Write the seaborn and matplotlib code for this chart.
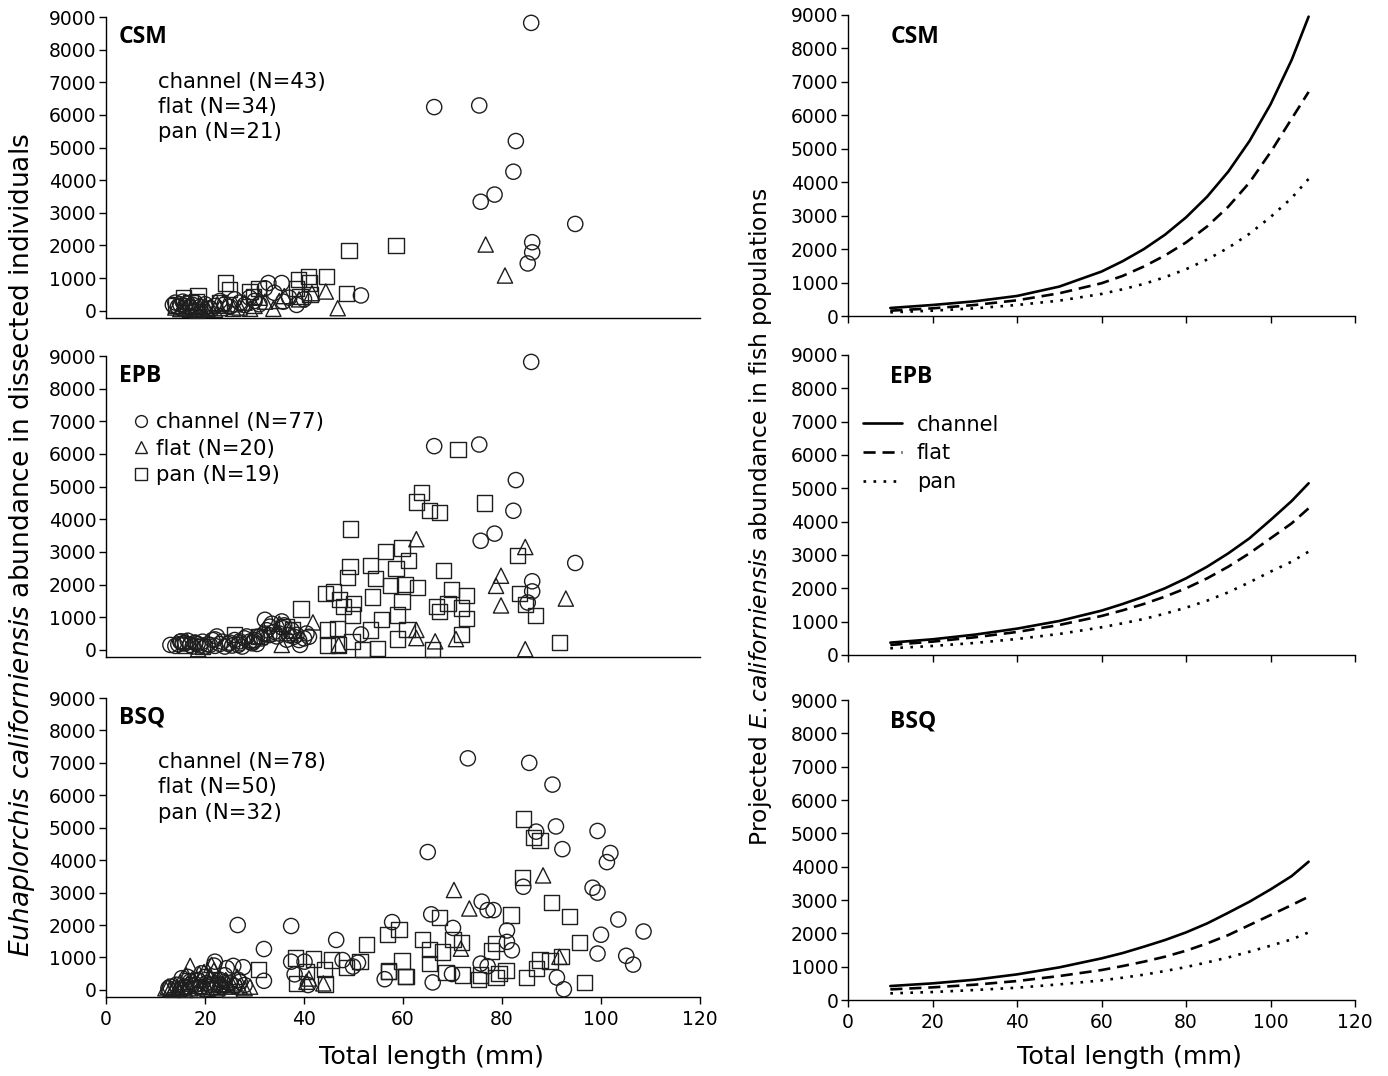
import matplotlib
matplotlib.use("Agg")
import matplotlib.pyplot as plt
from matplotlib.lines import Line2D
import seaborn as sns

sns.set_style("ticks")
plt.rcParams['font.family'] = ['DejaVu Sans']
plt.rcParams['mathtext.fontset'] = 'custom'
plt.rcParams['mathtext.rm'] = 'DejaVu Sans'
plt.rcParams['mathtext.it'] = 'DejaVu Sans:italic'
plt.rcParams['axes.linewidth'] = 1.0
for key in ['text.color', 'axes.labelcolor', 'xtick.color', 'ytick.color', 'axes.edgecolor']:
    plt.rcParams[key] = 'black'

# ---------------- dissected individuals (left column) ----------------
csm_channel_x = [85.9, 66.3, 75.4, 82.8, 82.3, 78.5, 75.7, 86.1, 86.1, 85.2, 94.8, 51.5,
                 13.5, 14, 14.5, 15, 15.5, 16, 16.5, 17, 17.5, 18, 19, 20, 21, 22, 23, 24, 25,
                 26, 27, 28, 29, 30, 31, 32.1, 32.8, 34, 35.5, 35.8, 37, 38.5, 40]
csm_channel_y = [8820, 6240, 6290, 5200, 4260, 3560, 3340, 2100, 1790, 1450, 2660, 470,
                 180, 250, 120, 200, 280, 150, 220, 100, 180, 250, 120, 200, 80, 150, 300, 200, 120,
                 350, 250, 180, 400, 300, 200, 690, 850, 550, 850, 280, 400, 180, 350]
csm_flat_x = [76.7, 80.6, 46.8, 44.4, 41.6, 33.8, 32.1, 25.7, 29.1,
              14, 15, 15.5, 16, 17, 17.5, 18, 18.5, 19, 19.5, 20, 20.5, 21, 22, 22.5, 23, 24,
              26, 27, 28, 30, 31, 35, 36, 39]
csm_flat_y = [2030, 1080, 80, 590, 540, 60, 280, 60, 60,
              100, 50, 150, 80, 30, 120, 60, 0, 100, 30, 150, 50, 100, 30, 200, 80, 150,
              200, 100, 250, 150, 400, 300, 450, 350]
csm_pan_x = [49.1, 58.6, 48.6, 44.5, 38.9, 40.9, 41.1, 41.2, 38.5, 39.2, 24.2, 25, 29.1,
             30.8, 29.8, 14, 15.6, 17, 18.6, 18.3, 23]
csm_pan_y = [1850, 2000, 540, 1050, 970, 1050, 850, 490, 690, 440, 850, 640, 590,
             690, 440, 150, 400, 250, 450, 280, 250]

epb_channel_x = [85.9, 66.3, 75.4, 82.8, 82.3, 78.5, 75.7, 86.1, 86.1, 85.2, 94.8, 51.5,
                 13, 14, 14.6, 15, 15.5, 16, 16.5, 17, 17.5, 18, 18.5, 19, 19.5, 20, 20.5, 21,
                 21.5, 22, 22.4, 23, 23.5, 24, 24.7, 25, 25.5, 26, 26.7, 27, 27.5, 28, 28.4, 29,
                 29.5, 29.8, 30, 30.5, 31.1, 31.5, 32, 32.1, 32.5, 33, 33.1, 33.5, 34, 34.5, 35,
                 35.5, 35.8, 36, 36.5, 37, 37.5, 38, 38.5, 39, 39.2, 40, 40.5, 41, 30.5, 27, 22,
                 18, 15.2]
epb_channel_y = [8820, 6240, 6290, 5200, 4260, 3560, 3340, 2100, 1790, 1450, 2660, 470,
                 150, 120, 170, 250, 200, 200, 280, 150, 100, 220, 180, 130, 250, 100, 170, 150,
                 300, 120, 410, 180, 250, 100, 180, 220, 130, 300, 150, 200, 100, 350, 410, 250,
                 200, 250, 300, 400, 410, 350, 500, 920, 600, 450, 710, 800, 550, 410, 500,
                 870, 660, 750, 310, 450, 600, 400, 460, 300, 150, 350, 500, 400, 180, 260, 320,
                 210, 260]
epb_flat_x = [84.7, 62.7, 79.8, 78.8, 79.8, 92.9, 84.7, 41.8, 62.7, 62.7, 66.5, 70.7, 47,
              35.5, 18.6, 16.4, 29.1, 32.7, 35, 37.3]
epb_flat_y = [3150, 3390, 2270, 1960, 1360, 1570, 20, 840, 610, 360, 260, 330, 150,
              150, 20, 260, 300, 500, 800, 510]
epb_pan_x = [71.1, 63.8, 62.7, 65.3, 67.4, 76.5, 49.4, 56.5, 59.8, 61.1,
             49.3, 53.5, 48.8, 54.5, 58.6, 57.4, 60.4, 62.9, 68.2, 83.2,
             69.8, 72.9, 44.3, 45.9, 47.1, 47.9, 50, 39.4, 53.9, 59.8,
             66.8, 67.3, 69.1, 71.8, 72.9, 83.5, 84.7, 86.8, 55.6, 58.9,
             49.8, 44.7, 46.8, 53.5, 44.7, 47, 49.7, 51.8, 54.8, 58.9,
             60.8, 71.8, 65.9, 91.6, 36.4, 37.7, 25.9, 30.9, 15.9, 19.5]
epb_pan_y = [6130, 4810, 4530, 4270, 4210, 4500, 3700, 3010, 3120, 2730,
             2560, 2590, 2220, 2180, 2500, 1960, 2010, 1920, 2430, 2890,
             1860, 1660, 1720, 1770, 1550, 1330, 1430, 1250, 1620, 1470,
             1330, 1180, 1430, 1280, 970, 1720, 1380, 1040, 920, 1070,
             1070, 610, 660, 610, 150, 150, 260, 0, 50, 330,
             630, 460, 0, 220, 720, 610, 460, 410, 150, 100]

bsq_channel_x = [73.1, 85.5, 90.2, 90.9, 99.3, 86.9, 92.2, 65, 101.9, 101.2, 84.3, 98.3, 99.3,
                 75.9, 77.1, 78.3, 65.7, 57.8, 103.5, 108.6, 100, 70.1, 81, 81, 82, 75.7, 77.1,
                 99.3, 105.1, 106.5, 91.1, 92.5, 69.9, 66, 56.3, 26.6, 37.4, 31.9, 46.5, 47.8,
                 49.9, 50.9, 31.9, 37.4, 40.1, 38.1, 40.8,
                 12.6, 15.3, 17, 19.3, 22, 21.8, 24.4, 25.7, 27.7, 26.7, 23, 20.3, 17, 18.2, 15.9,
                 14.2, 13, 16.5, 18.5, 19, 20, 21, 22.5, 23.5, 24, 25, 26, 27, 28, 16, 21.5]
bsq_channel_y = [7140, 7000, 6330, 5040, 4900, 4880, 4340, 4250, 4220, 3940, 3180, 3150, 3000,
                 2720, 2460, 2460, 2330, 2090, 2170, 1800, 1700, 1910, 1830, 1480, 1220, 810, 730,
                 1120, 1050, 780, 380, 20, 490, 230, 330, 2000, 1970, 1260, 1540, 920,
                 720, 840, 280, 870, 870, 480, 150,
                 50, 360, 260, 510, 870, 750, 670, 740, 700, 310, 310, 210, 160, 160, 100,
                 160, 100, 400, 300, 80, 400, 150, 200, 100, 450, 200, 120, 250, 150, 50, 50]
bsq_flat_x = [70.3, 73.4, 88.3, 71.7, 91.6, 43.9, 29.1, 17, 21.3,
              12, 12.5, 13, 13.5, 14, 14.5, 15, 15.5, 16, 16.5, 17, 17.5, 18, 18.5, 19, 19.5,
              20, 20.5, 21, 21.5, 22, 22.5, 23, 23.5, 24, 24.5, 25, 26, 27, 28, 16.2, 18.8,
              21.8, 24.2, 26.5, 14.8, 19.8, 22.8, 40.5, 41, 25.5]
bsq_flat_y = [3080, 2510, 3530, 1270, 1020, 200, 100, 740, 770,
              50, 100, 30, 0, 150, 60, 250, 100, 0, 200, 50, 350, 120, 0, 300, 80,
              200, 30, 450, 100, 250, 50, 350, 150, 100, 250, 0, 200, 100, 50, 450, 500,
              600, 300, 400, 20, 550, 180, 250, 350, 150]
bsq_pan_x = [84.3, 86.4, 87.7, 84.1, 90, 93.7, 81.8, 67.3, 56.8, 59.2,
             52.7, 64, 65.4, 68, 70.1, 71.8, 78.8, 77.9, 95.6, 92.1,
             89.7, 87.7, 86.9, 80.8, 79.4, 75.7, 75.2, 78.8, 72, 68.7,
             65.4, 59.8, 60.5, 57, 84.9, 96.7, 30.8, 38.2, 41.9, 45.6,
             44.2, 40.5, 38.5, 48.6, 51.3, 57, 60.6, 44.4]
bsq_pan_y = [5270, 4700, 4600, 3460, 2700, 2260, 2310, 2220, 1710, 1870,
             1400, 1560, 1240, 1170, 1550, 1450, 1420, 1200, 1460, 1040,
             890, 920, 650, 590, 510, 460, 330, 390, 460, 540,
             810, 890, 410, 580, 380, 220, 620, 980, 950, 920,
             620, 560, 200, 700, 870, 560, 410, 180]

# ---------------- projected abundance (right column) ----------------
curve_x = [10, 20, 30, 40, 50, 60, 65, 70, 75, 80, 85, 90, 95, 100, 105, 109]
csm_channel_fit = [240, 330, 440, 600, 880, 1330, 1640, 2000, 2430, 2950, 3570, 4320, 5230, 6330, 7660, 8950]
csm_flat_fit = [160, 230, 330, 470, 680, 980, 1200, 1480, 1810, 2200, 2680, 3270, 3990, 4900, 5900, 6700]
csm_pan_fit = [110, 160, 230, 330, 460, 660, 800, 960, 1160, 1400, 1690, 2040, 2460, 2960, 3530, 4100]
epb_channel_fit = [370, 470, 610, 790, 1020, 1330, 1530, 1750, 2000, 2300, 2650, 3050, 3500, 4050, 4620, 5150]
epb_flat_fit = [300, 400, 530, 690, 900, 1170, 1340, 1530, 1750, 2000, 2300, 2650, 3050, 3500, 3950, 4400]
epb_pan_fit = [200, 270, 360, 480, 630, 830, 950, 1080, 1240, 1420, 1630, 1880, 2180, 2500, 2800, 3100]
bsq_channel_fit = [420, 500, 610, 770, 980, 1250, 1410, 1600, 1800, 2030, 2300, 2620, 2950, 3320, 3720, 4150]
bsq_flat_fit = [320, 380, 460, 570, 720, 900, 1020, 1150, 1300, 1480, 1700, 1950, 2250, 2550, 2850, 3100]
bsq_pan_fit = [200, 240, 300, 370, 470, 590, 670, 760, 870, 990, 1130, 1280, 1450, 1630, 1820, 2030]

sites = ['CSM', 'EPB', 'BSQ']
counts = {'CSM': (43, 34, 21), 'EPB': (77, 20, 19), 'BSQ': (78, 50, 32)}
scatter_data = {
    'CSM': [(csm_channel_x, csm_channel_y), (csm_flat_x, csm_flat_y), (csm_pan_x, csm_pan_y)],
    'EPB': [(epb_channel_x, epb_channel_y), (epb_flat_x, epb_flat_y), (epb_pan_x, epb_pan_y)],
    'BSQ': [(bsq_channel_x, bsq_channel_y), (bsq_flat_x, bsq_flat_y), (bsq_pan_x, bsq_pan_y)],
}
fit_data = {
    'CSM': [csm_channel_fit, csm_flat_fit, csm_pan_fit],
    'EPB': [epb_channel_fit, epb_flat_fit, epb_pan_fit],
    'BSQ': [bsq_channel_fit, bsq_flat_fit, bsq_pan_fit],
}

markers = ['o', '^', 's']
line_styles = ['-', (0, (4.6, 2.6)), (0, (1.0, 2.8))]
habitats = ['channel', 'flat', 'pan']
edge = '#1e1e1e'
panel_font = ['Open Sans', 'DejaVu Sans']

fig = plt.figure(figsize=(13.88, 10.76), dpi=100)

left_rows = [(0.7045, 0.2797), (0.3894, 0.2797), (0.0734, 0.2779)]
right_rows = [(0.7063, 0.2798), (0.3913, 0.2788), (0.0706, 0.2788)]

for i, site in enumerate(sites):
    # ---- left: dissected individuals ----
    ax = fig.add_axes([0.0764, left_rows[i][0], 0.4279, left_rows[i][1]])
    for (xs, ys), m in zip(scatter_data[site], markers):
        sns.scatterplot(x=xs, y=ys, marker=m, s=120, ax=ax, legend=False,
                        edgecolor=edge, linewidth=1.0, zorder=3, clip_on=False)
        ax.collections[-1].set_facecolor('none')
    ax.set_xlim(0, 120)
    ax.set_ylim(-220, 9000)
    ax.set_yticks(range(0, 9001, 1000))
    ax.set_xticks(range(0, 121, 20))
    sns.despine(ax=ax)
    ax.tick_params(axis='y', labelsize=13.5, length=5, width=1, pad=2)
    if i < 2:
        ax.tick_params(axis='x', length=0, labelbottom=False)
    else:
        ax.tick_params(axis='x', labelsize=13.5, length=5, width=1, pad=4)
    ax.text(0.022, 0.934, site, transform=ax.transAxes, fontsize=16.5,
            fontweight='bold', va='center', ha='left', family=panel_font)
    n = counts[site]
    labels = [f'{h} (N={k})' for h, k in zip(habitats, n)]
    if site == 'EPB':
        handles = [Line2D([], [], marker=m, ls='', mfc='none', mec=edge, mew=1.0, ms=8.5)
                   for m in markers]
        ax.legend(handles, labels, loc='upper left', bbox_to_anchor=(0.02, 0.862),
                  frameon=False, fontsize=15.3, handlelength=0.8, handletextpad=0.3,
                  labelspacing=0.3, borderpad=0.2)
    else:
        for lab, yy in zip(labels, [0.785, 0.701, 0.617]):
            ax.text(0.0875, yy, lab, transform=ax.transAxes, fontsize=15.3,
                    va='center', ha='left')

    # ---- right: projected abundance ----
    ax2 = fig.add_axes([0.611, right_rows[i][0], 0.3653, right_rows[i][1]])
    for ys, ls in zip(fit_data[site], line_styles):
        sns.lineplot(x=curve_x, y=ys, ax=ax2, color='black', linewidth=1.9,
                     linestyle=ls, legend=False)
    ax2.set_xlim(0, 120)
    ax2.set_ylim(0, 9000)
    ax2.set_yticks(range(0, 9001, 1000))
    ax2.set_xticks(range(0, 121, 20))
    sns.despine(ax=ax2)
    ax2.tick_params(axis='y', labelsize=13.5, length=5, width=1, pad=2)
    if i < 2:
        ax2.tick_params(axis='x', length=5, width=1, labelbottom=False)
    else:
        ax2.tick_params(axis='x', labelsize=13.5, length=5, width=1, pad=4)
    ax2.text(0.083, 0.927, site, transform=ax2.transAxes, fontsize=16.5,
             fontweight='bold', va='center', ha='left', family=panel_font)
    if site == 'EPB':
        handles = [Line2D([], [], color='black', lw=1.9, ls=ls) for ls in line_styles]
        ax2.legend(handles, habitats, loc='upper left', bbox_to_anchor=(0.0, 0.85),
                   frameon=False, fontsize=15, handlelength=1.9, handletextpad=0.7,
                   labelspacing=0.42, borderpad=0.2)

fig.text(0.311, 0.018, 'Total length (mm)', fontsize=18.3, ha='center', va='center')
fig.text(0.814, 0.018, 'Total length (mm)', fontsize=18.3, ha='center', va='center')
fig.text(0.016, 0.493,
         r'$\it{Euhaplorchis\ californiensis}$ abundance in dissected individuals',
         rotation=90, fontsize=19, ha='center', va='center')
fig.text(0.548, 0.520,
         r'Projected $\it{E.californiensis}$ abundance in fish populations',
         rotation=90, fontsize=16.8, ha='center', va='center')

fig.savefig('out.png', dpi=100)
